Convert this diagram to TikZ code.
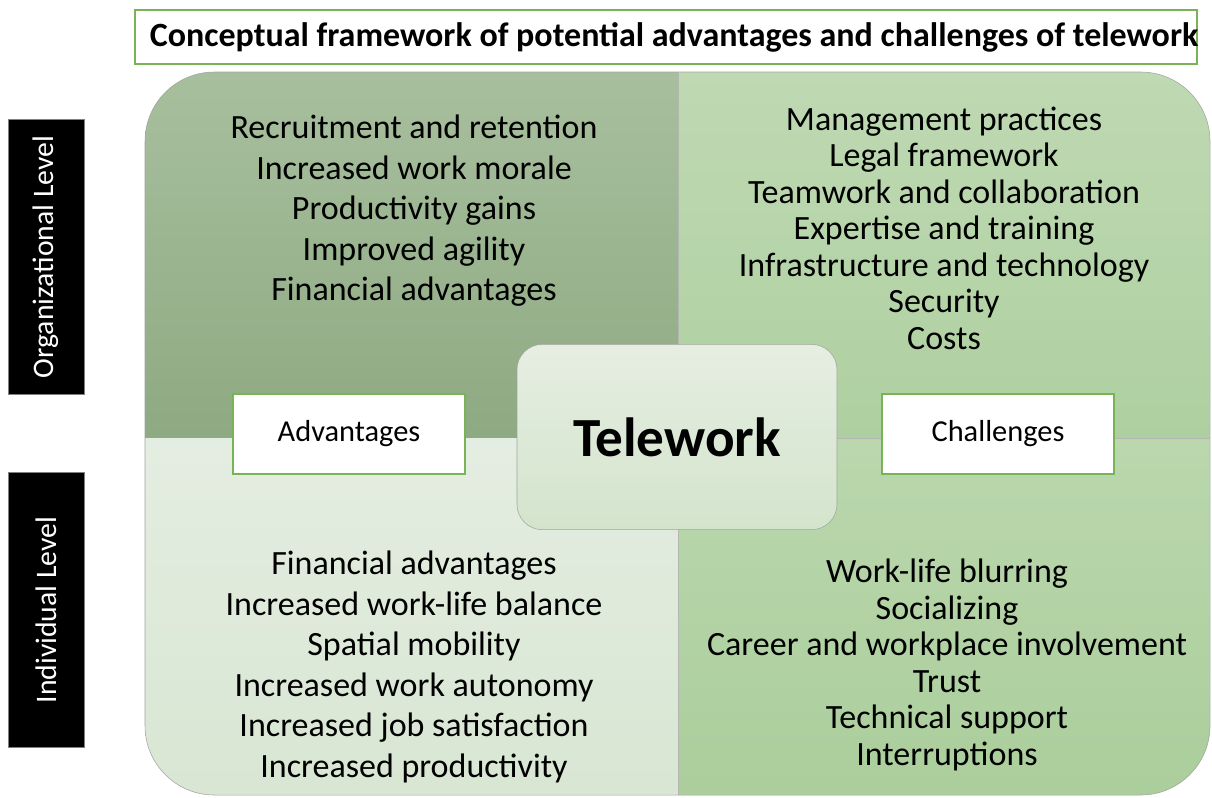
\documentclass[tikz,border=0pt]{standalone}
\usepackage{fontspec}
\setmainfont{Carlito}
\definecolor{boxgreen}{HTML}{7AB356}
\definecolor{edgegray}{HTML}{A0A49E}
\definecolor{tltop}{HTML}{A8BF9E}\definecolor{tlbot}{HTML}{8EAA82}
\definecolor{trtop}{HTML}{BFD9B3}\definecolor{trbot}{HTML}{AED0A0}
\definecolor{bltop}{HTML}{E4EDE1}\definecolor{blbot}{HTML}{D8E6D3}
\definecolor{brtop}{HTML}{BAD7AD}\definecolor{brbot}{HTML}{ABCE9C}
\definecolor{ctrtop}{HTML}{E6EEE2}\definecolor{ctrbot}{HTML}{D3E4CC}
\tikzset{
	itemlist/.style={align=center, inner sep=0pt},
	bigitems/.style={itemlist, font=\fontsize{25.5}{30.4}\selectfont},
	smallitems/.style={itemlist, font=\fontsize{25.5}{27.4}\selectfont},
	tagbox/.style={draw=boxgreen, line width=0.9pt, fill=white, minimum width=174pt, minimum height=60pt, inner sep=0pt, font=\fontsize{22.8}{27}\selectfont},
	levelbox/.style={fill=black, draw=gray, text=white, rotate=90, minimum width=206pt, minimum height=57pt, inner sep=0pt, font=\fontsize{22.3}{26}\selectfont}
}
\newcommand{\quadfill}[3]{\shade[top color=#2, bottom color=#3] #1;}

\begin{document}
\begin{tikzpicture}[x=0.75pt, y=-0.75pt]
	\useasboundingbox (0,0) rectangle (1212,797);
	
	% four quadrants
	\begin{scope}
		\clip[rounded corners=52pt] (145,72) rectangle (1210,795);
		\quadfill{(145,72) rectangle (678,438)}{tltop}{tlbot}
		\quadfill{(678,72) rectangle (1210,438)}{trtop}{trbot}
		\quadfill{(145,438) rectangle (678,795)}{bltop}{blbot}
		\quadfill{(678,438) rectangle (1210,795)}{brtop}{brbot}
	\end{scope}
	\draw[edgegray, thin, rounded corners=52pt] (145,72) rectangle (1210,795);
	\draw[edgegray!80, thin] (678,72) -- (678,795);
	\draw[edgegray!80, thin] (678,438) -- (1210,438);
	
	\node[draw=boxgreen, line width=0.9pt, minimum width=796.5pt, minimum height=40.5pt, inner sep=0pt] (title) at (666,37)
		{\makebox[0pt]{\hspace{12pt}\fontsize{25.5}{29}\selectfont\bfseries Conceptual framework of potential advantages and challenges of telework}};
	
	\node[levelbox] (org) at (46,257) {Organizational Level};
	\node[levelbox] (ind) at (46,610) {Individual Level};
	
	\node[bigitems] (orgadv) at (414,211) {Recruitment and retention\\Increased work morale\\Productivity gains\\Improved agility\\Financial advantages};
	\node[smallitems] (orgchal) at (944,228) {Management practices\\Legal framework\\Teamwork and collaboration\\Expertise and training\\Infrastructure and technology\\Security\\Costs};
	\node[bigitems] (indadv) at (414,667) {Financial advantages\\Increased work-life balance\\Spatial mobility\\Increased work autonomy\\Increased job satisfaction\\Increased productivity};
	\node[smallitems] (indchal) at (947,665) {Work-life blurring\\Socializing\\Career and workplace involvement\\Trust\\Technical support\\Interruptions};
	
	\node[draw=edgegray, rounded corners=19pt, top color=ctrtop, bottom color=ctrbot, minimum width=240pt, minimum height=139pt, font=\fontsize{41.4}{47}\selectfont\bfseries] (tele) at (677,437) {Telework};
	
	\node[tagbox] (adv) at (349,434) {Advantages};
	\node[tagbox] (chal) at (998,434) {Challenges};
\end{tikzpicture}
\end{document}
